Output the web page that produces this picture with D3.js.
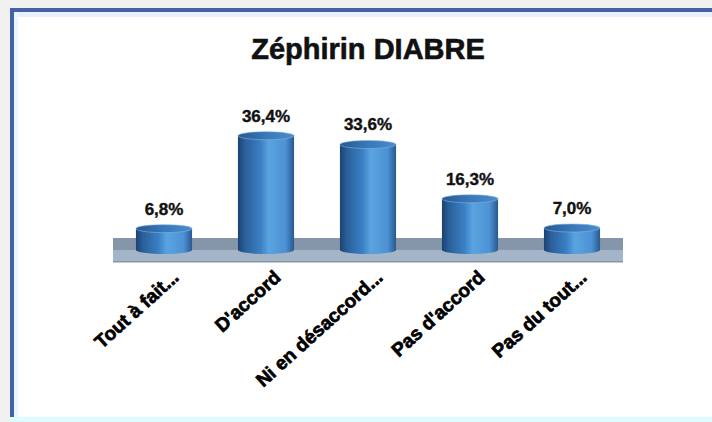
<!DOCTYPE html>
<html>
<head>
<meta charset="utf-8">
<script src="https://cdn.jsdelivr.net/npm/d3@7"></script>
<style>
  body { margin: 0; background: #f0f0f0; }
  svg { display: block; font-family: "Liberation Sans", Arial, sans-serif; }
</style>
</head>
<body>
<div id="chart"></div>
<script>
var svgWidth = 712;
var svgHeight = 422;

// data
var categories = ["Tout à fait...", "D'accord", "Ni en désaccord...", "Pas d'accord", "Pas du tout..."];
var values = [6.8, 36.4, 33.6, 16.3, 7.0];
var valueLabels = ["6,8%", "36,4%", "33,6%", "16,3%", "7,0%"];
var title = "Zéphirin DIABRE";

var svg = d3.select("#chart")
  .append("svg")
  .attr("width", svgWidth)
  .attr("height", svgHeight);

var defs = svg.append("defs");

// cylinder shading, left to right
var bodyGrad = defs.append("linearGradient").attr("id", "body");
[[0, "#1a4270"], [0.12, "#2a5f98"], [0.4, "#3a7fc4"], [0.55, "#5ba3e0"], [0.85, "#4c92d4"], [1, "#27588e"]]
  .forEach(s => bodyGrad.append("stop").attr("offset", s[0]).attr("stop-color", s[1]));

var capGrad = defs.append("linearGradient").attr("id", "cap");
[[0, "#27598f"], [0.5, "#3a78b8"], [1, "#4a8ccc"]]
  .forEach(s => capGrad.append("stop").attr("offset", s[0]).attr("stop-color", s[1]));

// frame of the screenshot
svg.append("rect")
  .attr("x", 10).attr("y", 8)
  .attr("width", svgWidth - 10).attr("height", svgHeight - 8)
  .attr("fill", "#ffffff");
svg.append("rect")
  .attr("x", 14).attr("y", 12)
  .attr("width", svgWidth - 14).attr("height", 5)
  .attr("fill", "#e6f0ff");
svg.append("rect")
  .attr("x", 10).attr("y", 8)
  .attr("width", svgWidth - 10).attr("height", 4)
  .attr("fill", "#4462a4");
svg.append("rect")
  .attr("x", 10).attr("y", 8)
  .attr("width", 4).attr("height", svgHeight - 8)
  .attr("fill", "#4462a4");
svg.append("rect")
  .attr("x", 14).attr("y", 12)
  .attr("width", 4).attr("height", svgHeight - 12)
  .attr("fill", "#e8f6ff");
svg.append("rect")
  .attr("x", 10).attr("y", 417)
  .attr("width", svgWidth - 10).attr("height", 5)
  .attr("fill", "#dcfcff");

// scales
var x = d3.scaleBand()
  .domain(categories)
  .range([113, 623])
  .paddingInner(0.45)
  .paddingOuter(0.225);

var y = d3.scaleLinear()
  .domain([0, 40])
  .range([250, 124.4]);

// floor
var floor = svg.append("g");
floor.append("rect")
  .attr("x", x.range()[0]).attr("y", y(0) - 12)
  .attr("width", x.range()[1] - x.range()[0]).attr("height", 12)
  .attr("fill", "#8596aa");
floor.append("rect")
  .attr("x", x.range()[0]).attr("y", y(0))
  .attr("width", x.range()[1] - x.range()[0]).attr("height", 12)
  .attr("fill", "#a3b5c7");
floor.append("rect")
  .attr("x", x.range()[0]).attr("y", y(0) + 11)
  .attr("width", x.range()[1] - x.range()[0]).attr("height", 1.5)
  .attr("fill", "#8497ab");

// cylinders
var ry = 4;
var bars = svg.selectAll(".bar")
  .data(values)
  .enter()
  .append("g")
  .attr("class", "bar");

bars.append("ellipse")
  .attr("cx", (d, i) => x(categories[i]) + x.bandwidth() / 2)
  .attr("cy", y(0))
  .attr("rx", x.bandwidth() / 2)
  .attr("ry", ry)
  .attr("fill", "url(#body)");

bars.append("rect")
  .attr("x", (d, i) => x(categories[i]))
  .attr("y", d => y(d))
  .attr("width", x.bandwidth())
  .attr("height", d => y(0) - y(d))
  .attr("fill", "url(#body)");

bars.append("ellipse")
  .attr("cx", (d, i) => x(categories[i]) + x.bandwidth() / 2)
  .attr("cy", d => y(d))
  .attr("rx", x.bandwidth() / 2)
  .attr("ry", ry)
  .attr("fill", "url(#cap)")
  .attr("stroke", "#7fb4e6")
  .attr("stroke-width", 0.6);

// value labels
svg.selectAll(".val")
  .data(values)
  .enter()
  .append("text")
  .attr("class", "val")
  .attr("x", (d, i) => x(categories[i]) + x.bandwidth() / 2)
  .attr("y", d => y(d) - ry - 10)
  .attr("text-anchor", "middle")
  .attr("font-size", 17)
  .attr("font-weight", "bold")
  .attr("fill", "#111")
  .attr("stroke", "#111")
  .attr("stroke-width", 0.4)
  .text((d, i) => valueLabels[i]);

// category labels
svg.selectAll(".cat")
  .data(categories)
  .enter()
  .append("text")
  .attr("class", "cat")
  .attr("transform", d => `translate(${x(d) + x.bandwidth() / 2 + 16}, 279) rotate(-42)`)
  .attr("text-anchor", "end")
  .attr("font-size", 19)
  .attr("font-weight", "bold")
  .attr("fill", "#000")
  .attr("stroke", "#000")
  .attr("stroke-width", 0.7)
  .text(d => d);

// title
svg.append("text")
  .attr("x", 368)
  .attr("y", 59)
  .attr("text-anchor", "middle")
  .attr("font-size", 29)
  .attr("font-weight", "bold")
  .attr("fill", "#111")
  .attr("stroke", "#111")
  .attr("stroke-width", 0.6)
  .text(title);
</script>
</body>
</html>
